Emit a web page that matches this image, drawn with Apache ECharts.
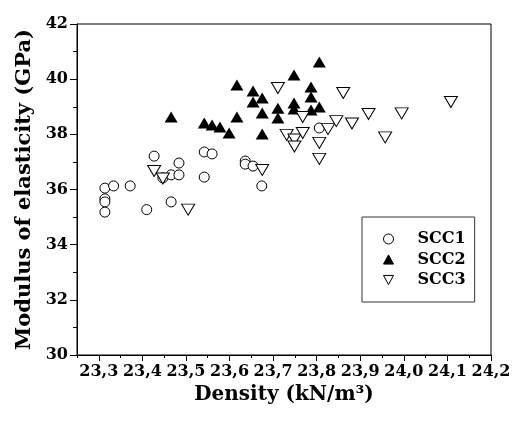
<!DOCTYPE html>
<html>
<head>
<meta charset="utf-8">
<script src="https://cdn.jsdelivr.net/npm/echarts@6/dist/echarts.min.js"></script>
<style>html,body{margin:0;padding:0;background:#fff}#c{width:516px;height:424px}</style>
</head>
<body>
<div id="c"></div>
<script>
// Density (kN/m3) and modulus of elasticity (GPa)
const scc1X = [23.314, 23.314, 23.314, 23.314, 23.334, 23.372, 23.410, 23.427, 23.447, 23.466, 23.466, 23.484, 23.484, 23.542, 23.560, 23.542, 23.636, 23.636, 23.654, 23.674, 23.806];
const scc1Y = [36.05, 35.66, 35.55, 35.18, 36.13, 36.13, 35.27, 37.21, 36.42, 36.53, 35.55, 36.96, 36.53, 37.36, 37.29, 36.45, 37.03, 36.92, 36.85, 36.13, 38.23];

const scc2X = [23.466, 23.542, 23.560, 23.578, 23.599, 23.617, 23.617, 23.654, 23.654, 23.675, 23.675, 23.675, 23.711, 23.711, 23.748, 23.748, 23.748, 23.787, 23.787, 23.787, 23.806, 23.806];
const scc2Y = [38.63, 38.41, 38.34, 38.27, 38.05, 39.79, 38.63, 39.57, 39.17, 39.32, 38.77, 38.01, 38.95, 38.59, 40.15, 39.14, 38.92, 39.72, 39.35, 38.88, 40.62, 38.99];

const scc3X = [23.427, 23.447, 23.505, 23.675, 23.711, 23.768, 23.731, 23.749, 23.749, 23.768, 23.806, 23.806, 23.826, 23.845, 23.861, 23.881, 23.919, 23.957, 23.995, 24.108];
const scc3Y = [36.67, 36.40, 35.27, 36.71, 39.68, 38.63, 37.98, 37.81, 37.56, 38.05, 37.69, 37.11, 38.19, 38.48, 39.50, 38.39, 38.74, 37.89, 38.76, 39.17];

const seriesNames = ['SCC1', 'SCC2', 'SCC3'];
const xMajorTicks = [23.3, 23.4, 23.5, 23.6, 23.7, 23.8, 23.9, 24.0, 24.1, 24.2];
const yTicks = [30, 32, 34, 36, 38, 40, 42];

const zip = (xs, ys) => xs.map((x, i) => [x, ys[i]]);
const FONT = 'DejaVu Serif';

const chart = echarts.init(document.getElementById('c'), null, {renderer: 'canvas'});
chart.setOption({
  animation: false,
  backgroundColor: '#fff',
  grid: {left: 77, right: 25, top: 24, bottom: 69, show: true, borderColor: '#000', borderWidth: 1, backgroundColor: 'transparent'},
  xAxis: [{
    type: 'value', min: 23.25, max: 24.2, interval: 0.05,
    name: 'Density (kN/m³)', nameLocation: 'middle', nameGap: 28,
    nameTextStyle: {fontFamily: FONT, fontWeight: 'bold', fontSize: 20, color: '#000'},
    axisLine: {show: true, onZero: false, lineStyle: {color: '#000', width: 1}},
    axisTick: {show: true, length: 3, lineStyle: {color: '#000'}},
    splitLine: {show: false},
    axisLabel: {
      margin: 9, fontFamily: FONT, fontWeight: 'bold', fontSize: 16, color: '#000',
      formatter: v => { const r = Math.round(v * 20); if (r % 2) return ''; return (r / 20).toFixed(1).replace('.', ','); }
    }
  }, {
    type: 'value', min: 23.25, max: 24.2, position: 'bottom', offset: 0,
    axisLine: {show: false},
    axisTick: {show: true, length: 6, customValues: xMajorTicks, lineStyle: {color: '#000'}},
    axisLabel: {show: false},
    splitLine: {show: false}
  }],
  yAxis: {
    type: 'value', min: 30, max: 42, interval: 2,
    name: 'Modulus of elasticity (GPa)', nameLocation: 'middle', nameGap: 38,
    nameTextStyle: {fontFamily: FONT, fontWeight: 'bold', fontSize: 21, color: '#000'},
    axisLine: {show: true, onZero: false, lineStyle: {color: '#000', width: 1}},
    axisTick: {show: true, length: 7, lineStyle: {color: '#000'}},
    minorTick: {show: true, splitNumber: 2, length: 4, lineStyle: {color: '#000'}},
    splitLine: {show: false},
    axisLabel: {margin: 9, fontFamily: FONT, fontWeight: 'bold', fontSize: 16, color: '#000',
      formatter: v => yTicks.includes(v) ? String(v) : ''}
  },
  legend: {
    orient: 'vertical', left: 362, top: 217,
    padding: [14, 9, 14, 21],
    itemWidth: 10, itemHeight: 10, itemGap: 4.5,
    backgroundColor: '#fff', borderColor: '#333', borderWidth: 1,
    itemStyle: {borderWidth: 1},
    data: [
      {name: seriesNames[0]},
      {name: seriesNames[1], icon: 'path://M6,0L12,11L0,11Z'},
      {name: seriesNames[2], icon: 'path://M0,0L12,0L6,11Z'}
    ],
    formatter: n => '{t|' + n + '}',
    textStyle: {rich: {t: {fontFamily: FONT, fontWeight: 'bold', fontSize: 16, color: '#000', lineHeight: 16, padding: [0, 0, 0, 19]}}}
  },
  series: [{
    name: seriesNames[0], type: 'scatter', data: zip(scc1X, scc1Y),
    symbol: 'circle', symbolSize: 10,
    itemStyle: {color: '#fff', borderColor: '#000', borderWidth: 1, opacity: 1}
  }, {
    name: seriesNames[1], type: 'scatter', data: zip(scc2X, scc2Y),
    symbol: 'triangle', symbolSize: [13, 11],
    itemStyle: {color: '#000', borderColor: '#000', borderWidth: 0, opacity: 1}
  }, {
    name: seriesNames[2], type: 'scatter', data: zip(scc3X, scc3Y),
    symbol: 'triangle', symbolSize: [13, 11], symbolRotate: 180,
    itemStyle: {color: '#fff', borderColor: '#000', borderWidth: 1, opacity: 1}
  }]
});
</script>
</body>
</html>
